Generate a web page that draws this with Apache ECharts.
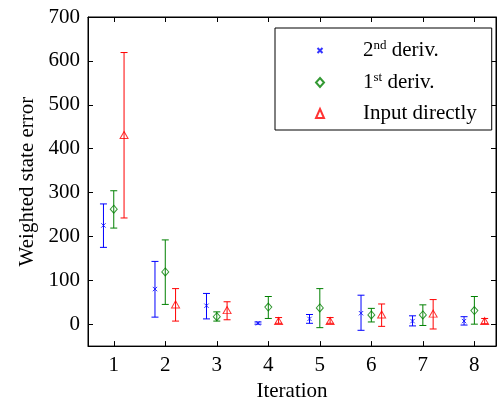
<!DOCTYPE html>
<html>
<head>
<meta charset="utf-8">
<script src="https://cdn.jsdelivr.net/npm/echarts@6/dist/echarts.min.js"></script>
<style>
  html, body { margin: 0; padding: 0; background: #fff; }
  #main { width: 497px; height: 407px; }
</style>
</head>
<body>
<div id="main"></div>
<script>
var iterations = [1, 2, 3, 4, 5, 6, 7, 8];
var yTicks = [0, 100, 200, 300, 400, 500, 600, 700];

// 2nd deriv.
var deriv2Mean = [225, 80, 42, 2, 12, 25, 7, 7];
var deriv2Low  = [175, 16, 12, 0, 2, -14, -4, -2];
var deriv2High = [274, 143, 70, 5, 22, 66, 19, 17];
// 1st deriv.
var deriv1Mean = [262, 119, 17, 39, 37, 21, 21, 31];
var deriv1Low  = [219, 45, 7, 13, -8, 5, -3, 0];
var deriv1High = [304, 192, 28, 63, 81, 36, 44, 63];
// Input directly
var directMean = [431, 45, 32, 7, 7, 22, 24, 7];
var directLow  = [242, 7, 10, 2, 2, -5, -11, 1];
var directHigh = [619, 81, 51, 15, 15, 46, 56, 13];

var FONT = 'Liberation Serif';
var FS = 21;
// cross with padding so it draws smaller than its box
var CROSS = 'path://M-3,-3M0,0L10,10M10,0L0,10M13,13';
var chart = echarts.init(document.getElementById('main'));

function points(mean, off) {
    return iterations.map(function (it, i) { return [it + off, mean[i]]; });
}
function bars(low, high, off) {
    return iterations.map(function (it, i) { return [it + off, low[i], high[i]]; });
}
function errorBar(name, low, high, off, color) {
    return {
        name: name,
        type: 'custom',
        data: bars(low, high, off),
        z: 2,
        renderItem: function (params, api) {
            var x = api.value(0);
            var lo = api.coord([x, api.value(1)]);
            var hi = api.coord([x, api.value(2)]);
            var w = 3.5;
            var st = { stroke: color, lineWidth: 1 };
            return {
                type: 'group',
                children: [
                    { type: 'line', shape: { x1: lo[0], y1: lo[1], x2: hi[0], y2: hi[1] }, style: st },
                    { type: 'line', shape: { x1: lo[0] - w, y1: lo[1], x2: lo[0] + w, y2: lo[1] }, style: st },
                    { type: 'line', shape: { x1: hi[0] - w, y1: hi[1], x2: hi[0] + w, y2: hi[1] }, style: st }
                ]
            };
        }
    };
}
function marker(name, mean, off, color, symbol, size) {
    return {
        name: name,
        type: 'scatter',
        data: points(mean, off),
        symbol: symbol,
        symbolSize: size,
        z: 3,
        itemStyle: { color: 'rgba(0,0,0,0)', borderColor: color, borderWidth: 1 }
    };
}

var legendText = {
    '2nd deriv.': '{n|2}{s|nd}{n| deriv.}',
    '1st deriv.': '{n|1}{s|st}{n| deriv.}',
    'Input directly': '{n|Input directly}'
};

// box frame: ticks on all four sides, like the original
function frameAxis(extra) {
    return Object.assign({
        type: 'value',
        axisLine: { show: true, onZero: false, lineStyle: { color: '#000', width: 1 } },
        splitLine: { show: false }
    }, extra);
}

var option = {
    animation: false,
    grid: { left: 88, top: 17, right: 1, bottom: 54, show: true, borderColor: '#000', borderWidth: 1 },
    legend: {
        data: ['2nd deriv.', '1st deriv.', 'Input directly'],
        orient: 'vertical',
        left: 275,
        top: 28,
        padding: [11, 15, 6, 40],
        itemGap: 10,
        itemWidth: 8,
        itemHeight: 9,
        borderColor: '#000',
        borderWidth: 1,
        backgroundColor: '#fff',
        formatter: function (name) { return legendText[name]; },
        textStyle: {
            padding: [0, 0, 0, 34],
            rich: {
                n: { fontFamily: FONT, fontSize: FS, color: '#000', lineHeight: 23 },
                s: { fontFamily: FONT, fontSize: 13, color: '#000', lineHeight: 23, verticalAlign: 'top', padding: [0, 0, 8, 0] }
            }
        }
    },
    xAxis: [frameAxis({
        min: 0.5,
        max: 8.42,
        name: 'Iteration',
        nameLocation: 'middle',
        nameGap: 26,
        nameTextStyle: { fontFamily: FONT, fontSize: FS, color: '#000' },
        axisTick: { show: true, inside: true, length: 5, customValues: iterations, lineStyle: { color: '#000' } },
        axisLabel: { customValues: iterations, fontFamily: FONT, fontSize: FS, color: '#000', margin: 9 }
    }), frameAxis({
        position: 'top',
        min: 0.5,
        max: 8.42,
        axisTick: { show: true, inside: true, length: 5, customValues: iterations, lineStyle: { color: '#000' } },
        axisLabel: { show: false, customValues: iterations }
    })],
    yAxis: [frameAxis({
        min: -50,
        max: 700,
        name: 'Weighted state error',
        nameLocation: 'middle',
        nameGap: 50,
        nameTextStyle: { fontFamily: FONT, fontSize: FS, color: '#000' },
        axisTick: { show: true, inside: true, length: 5, customValues: yTicks, lineStyle: { color: '#000' } },
        axisLabel: { customValues: yTicks, fontFamily: FONT, fontSize: FS, color: '#000', margin: 8 }
    }), frameAxis({
        position: 'right',
        min: -50,
        max: 700,
        axisTick: { show: true, inside: true, length: 5, customValues: yTicks, lineStyle: { color: '#000' } },
        axisLabel: { show: false, customValues: yTicks }
    })],
    series: [
        errorBar('err2', deriv2Low, deriv2High, -0.2, '#0000ff'),
        errorBar('err1', deriv1Low, deriv1High, 0, '#008000'),
        errorBar('errD', directLow, directHigh, 0.2, '#ff0000'),
        marker('2nd deriv.', deriv2Mean, -0.2, '#0000ff', CROSS, 7),
        marker('1st deriv.', deriv1Mean, 0, '#008000', 'diamond', [7, 8]),
        marker('Input directly', directMean, 0.2, '#ff0000', 'triangle', [8, 7])
    ]
};

chart.setOption(option);
</script>
</body>
</html>
